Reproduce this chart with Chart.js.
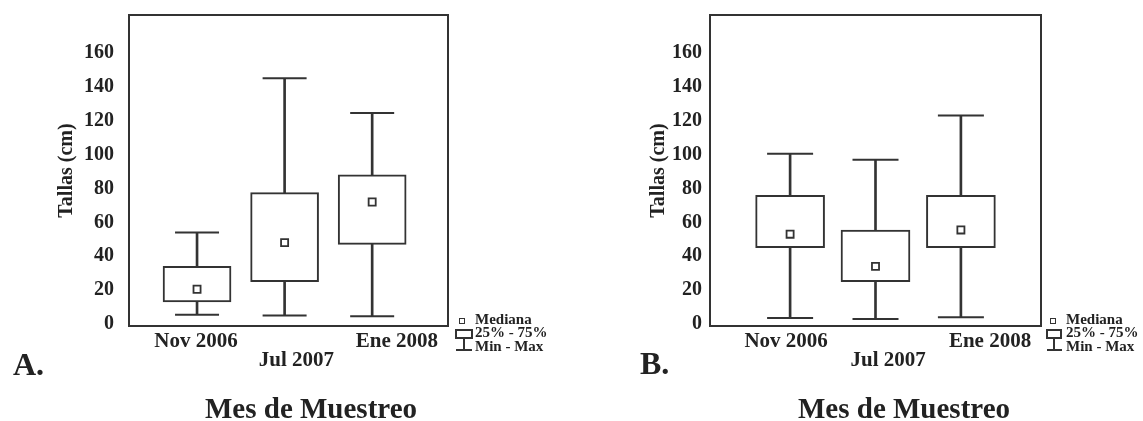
<!DOCTYPE html>
<html><head><meta charset="utf-8">
<script src="https://cdn.jsdelivr.net/npm/chart.js@4.4.1/dist/chart.umd.min.js"></script>
<style>
html,body{margin:0;padding:0;background:#fff}
body{width:1143px;height:421px;overflow:hidden;position:relative;font-family:'Liberation Serif','Times New Roman',serif;font-weight:bold;color:#222}
canvas{position:absolute;top:0}
.t{position:absolute;white-space:nowrap}
.leg{font-size:15px;line-height:15px}
.sq{position:absolute;width:6px;height:6px;border:1.5px solid #333;box-sizing:border-box;background:#fff}
.bx{position:absolute;height:10px;border:2px solid #333;box-sizing:border-box;background:#fff}
.ln{position:absolute;background:#333}
.xt{font-size:29px;line-height:29px;transform:translateX(-50%)}
.pl{font-size:32px;line-height:32px}
</style></head>
<body>
<canvas id="chartA" width="560" height="421" style="left:0"></canvas>
<canvas id="chartB" width="583" height="421" style="left:560px"></canvas>

<div class="t pl" style="left:13px;top:348px">A.</div>
<div class="t pl" style="left:640px;top:347px">B.</div>
<div class="t xt" style="left:311px;top:394px">Mes de Muestreo</div>
<div class="t xt" style="left:904px;top:394px">Mes de Muestreo</div>

<!-- legend A -->
<div class="sq" style="left:459px;top:318px"></div>
<div class="bx" style="left:455px;top:329px;width:18px"></div>
<div class="ln" style="left:463px;top:338px;width:2px;height:12px"></div>
<div class="ln" style="left:456px;top:349px;width:16px;height:2px"></div>
<div class="t leg" style="left:475px;top:312px">Mediana</div>
<div class="t leg" style="left:475px;top:325px">25% - 75%</div>
<div class="t leg" style="left:475px;top:339px">Min - Max</div>

<!-- legend B -->
<div class="sq" style="left:1050px;top:318px"></div>
<div class="bx" style="left:1046px;top:329px;width:16px"></div>
<div class="ln" style="left:1053px;top:338px;width:2px;height:12px"></div>
<div class="ln" style="left:1047px;top:349px;width:15px;height:2px"></div>
<div class="t leg" style="left:1066px;top:312px">Mediana</div>
<div class="t leg" style="left:1066px;top:325px">25% - 75%</div>
<div class="t leg" style="left:1066px;top:339px">Min - Max</div>

<script>
// ---- data ----
const categories = ['Nov 2006', 'Jul 2007', 'Ene 2008'];
const yTicks = [0, 20, 40, 60, 80, 100, 120, 140, 160];

const aMin    = [5.5, 5, 4.5];
const aQ1     = [13, 25, 47];
const aMedian = [20.5, 48, 72];
const aQ3     = [34, 77.5, 88];
const aMax    = [54, 145, 124.5];

const bMin    = [3.5, 3, 4];
const bQ1     = [45, 25, 45];
const bMedian = [53, 34, 55.5];
const bQ3     = [76, 55.5, 76];
const bMax    = [100.5, 97, 123];

// ---- drawing ----
const INK = '#333';
const TXT = '#222';
const FONT = "'Liberation Serif', 'Times New Roman', serif";

const framePlugin = {
  id: 'frame',
  afterDatasetsDraw(chart) {
    const {ctx, chartArea: a} = chart;
    ctx.save();
    ctx.strokeStyle = INK;
    ctx.lineWidth = 2;
    ctx.strokeRect(a.left, a.top, a.right - a.left, a.bottom - a.top);
    ctx.restore();
  }
};

function zeroPad(sc) {
  sc.paddingTop = 0; sc.paddingBottom = 0; sc.paddingLeft = 0; sc.paddingRight = 0;
}

function buildConfig(s, lay) {
  const idx = categories.map((_, i) => i);
  const common = { xAxisID: 'x', yAxisID: 'y' };
  return {
    type: 'bar',
    data: {
      datasets: [
        { ...common, type: 'scatter', data: idx.map(i => ({x: i, y: s.median[i]})),
          pointStyle: 'rect', pointRadius: 5, pointBackgroundColor: '#fff',
          pointBorderColor: INK, pointBorderWidth: 1.8 },
        { ...common, type: 'scatter', data: idx.flatMap(i => [{x: i, y: s.max[i]}, {x: i, y: s.min[i]}]),
          pointStyle: 'line', pointRadius: lay.cap, pointBorderColor: INK, pointBorderWidth: 2 },
        { ...common, data: idx.map(i => ({x: i, y: [s.q1[i], s.q3[i]]})),
          backgroundColor: '#fff', borderColor: INK, borderWidth: 2, borderSkipped: false,
          barThickness: lay.box, grouped: false },
        { ...common, data: idx.map(i => ({x: i, y: [s.q3[i], s.max[i]]})),
          backgroundColor: INK, borderWidth: 0, barThickness: 2, grouped: false },
        { ...common, data: idx.map(i => ({x: i, y: [s.min[i], s.q1[i]]})),
          backgroundColor: INK, borderWidth: 0, barThickness: 2, grouped: false }
      ]
    },
    options: {
      responsive: false,
      animation: false,
      events: [],
      devicePixelRatio: 1,
      layout: { autoPadding: false, padding: { left: 0, top: 15, right: lay.padRight, bottom: 0 } },
      plugins: { legend: { display: false }, tooltip: { enabled: false } },
      scales: {
        x: { type: 'linear', display: false, min: lay.xMin, max: lay.xMax, offset: false,
             grid: { offset: false } },
        xt: {
          type: 'linear', position: 'bottom', min: lay.lMin, max: lay.lMax, offset: false,
          grid: { display: false, drawTicks: false, offset: false }, border: { display: false },
          afterBuildTicks: sc => { sc.ticks = categories.map((_, i) => ({value: i})); },
          afterFit: sc => { sc.height = 95; zeroPad(sc); },
          ticks: {
            autoSkip: false, maxRotation: 0, minRotation: 0, padding: 6, color: TXT,
            font: { family: FONT, size: 21, weight: 'bold', lineHeight: 0.92 },
            callback: v => {
              const i = Math.round(v);
              return i % 2 === 1 ? ['', categories[i]] : categories[i];
            }
          }
        },
        y: {
          type: 'linear', min: -1.2, max: 182.4,
          grid: { display: false, drawTicks: false }, border: { display: false },
          afterBuildTicks: sc => { sc.ticks = yTicks.map(v => ({value: v})); },
          afterFit: sc => { sc.width = lay.yWidth; zeroPad(sc); },
          ticks: { padding: lay.tickPad, color: TXT,
            font: { family: FONT, size: 20, weight: 'bold' } },
          title: { display: true, text: 'Tallas (cm)', color: TXT,
            font: { family: FONT, size: 20, weight: 'bold', lineHeight: 1.2 },
            padding: { top: lay.titlePad, bottom: 0 } }
        }
      }
    },
    plugins: [framePlugin]
  };
}

new Chart(document.getElementById('chartA'), buildConfig(
  { min: aMin, q1: aQ1, median: aMedian, q3: aQ3, max: aMax },
  { padRight: 112, yWidth: 129, tickPad: 15, titlePad: 55, box: 68, cap: 22,
    xMin: -0.777, xMax: 2.866, lMin: -0.667, lMax: 2.508 }
));

new Chart(document.getElementById('chartB'), buildConfig(
  { min: bMin, q1: bQ1, median: bMedian, q3: bQ3, max: bMax },
  { padRight: 102, yWidth: 150, tickPad: 8, titlePad: 87, box: 69, cap: 23,
    xMin: -0.938, xMax: 2.938, lMin: -0.747, lMax: 2.5 }
));
</script>
</body></html>
